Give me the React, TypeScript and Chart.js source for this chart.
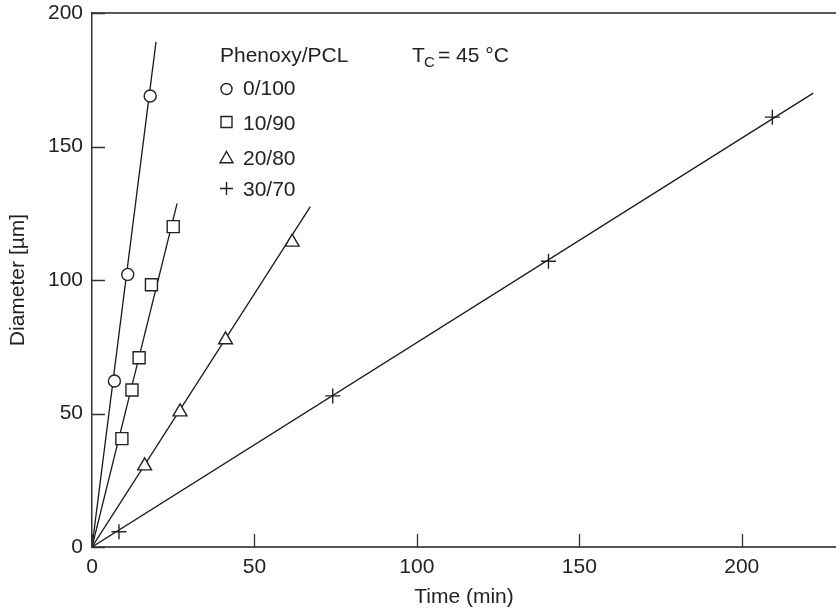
import React, { useEffect, useRef } from "react";
import { Chart, registerables } from "chart.js";

Chart.register(...registerables);

// ---- data ----
const seriesLabels = ["0/100", "10/90", "20/80", "30/70"];
const seriesStyles = ["circle", "rect", "triangle", "cross"];

const time0 = [6.9, 11.0, 17.9];
const diam0 = [62.2, 102.1, 168.9];
const time10 = [9.2, 12.3, 14.5, 18.3, 25.0];
const diam10 = [40.6, 58.8, 70.9, 98.2, 120];
const time20 = [16.2, 27.1, 41.1, 61.6];
const diam20 = [30.4, 50.6, 77.6, 114.2];
const time30 = [8.3, 74.1, 140.5, 209.4];
const diam30 = [5.7, 56.6, 107, 161];

// fitted lines (start / end points)
const fitTime0 = [0, 19.7];
const fitDiam0 = [0, 189.2];
const fitTime10 = [0, 26.2];
const fitDiam10 = [0, 128.7];
const fitTime20 = [0, 67.2];
const fitDiam20 = [0, 127.5];
const fitTime30 = [0, 222];
const fitDiam30 = [0, 170];

const xTicks = [0, 50, 100, 150, 200];
const yTicks = [0, 50, 100, 150, 200];

const legendTitle = "Phenoxy/PCL";
const tempLabelMain = "T";
const tempLabelSub = "C";
const tempLabelRest = "= 45 °C";

const FONT = '"Liberation Sans", Arial, Helvetica, sans-serif';
const INK = "#222";
const FS = 21;

const zip = (xs: number[], ys: number[]) => xs.map((x, i) => ({ x, y: ys[i] }));

const pointSets = [
  { t: time0, d: diam0, r: 6 },
  { t: time10, d: diam10, r: 8.5 },
  { t: time20, d: diam20, r: 8 },
  { t: time30, d: diam30, r: 7.5 },
];
const fitSets = [
  [fitTime0, fitDiam0],
  [fitTime10, fitDiam10],
  [fitTime20, fitDiam20],
  [fitTime30, fitDiam30],
];

function drawMarker(ctx: CanvasRenderingContext2D, style: string, x: number, y: number, r: number) {
  ctx.beginPath();
  if (style === "circle") {
    ctx.arc(x, y, r, 0, Math.PI * 2);
  } else if (style === "rect") {
    ctx.rect(x - r, y - r, 2 * r, 2 * r);
  } else if (style === "triangle") {
    const s = Math.sin((Math.PI * 2) / 3) * r;
    ctx.moveTo(x, y - r);
    ctx.lineTo(x + s, y + r / 2);
    ctx.lineTo(x - s, y + r / 2);
    ctx.closePath();
  } else {
    ctx.moveTo(x - r, y);
    ctx.lineTo(x + r, y);
    ctx.moveTo(x, y - r);
    ctx.lineTo(x, y + r);
  }
  if (style !== "cross") {
    ctx.fillStyle = "#fff";
    ctx.fill();
  }
  ctx.stroke();
}

const framePlugin = {
  id: "frameDecor",
  afterDraw(chart: any) {
    const ctx: CanvasRenderingContext2D = chart.ctx;
    const { left, right, top, bottom } = chart.chartArea;
    const xs = chart.scales.x;
    const ys = chart.scales.y;
    ctx.save();
    // top frame line
    ctx.strokeStyle = "#222";
    ctx.lineWidth = 1.5;
    ctx.beginPath();
    ctx.moveTo(left, top);
    ctx.lineTo(right, top);
    ctx.stroke();
    // inward ticks
    ctx.strokeStyle = "#333";
    ctx.lineWidth = 1.3;
    ctx.beginPath();
    xTicks.forEach((v) => {
      const px = Math.round(xs.getPixelForValue(v)) + 0.5;
      ctx.moveTo(px, bottom);
      ctx.lineTo(px, bottom - 13);
    });
    yTicks.forEach((v) => {
      const py = Math.round(ys.getPixelForValue(v)) + 0.5;
      ctx.moveTo(left, py);
      ctx.lineTo(left + 13, py);
    });
    ctx.stroke();

    // legend
    ctx.fillStyle = INK;
    ctx.textBaseline = "alphabetic";
    ctx.textAlign = "left";
    ctx.font = `${FS}px ${FONT}`;
    ctx.fillText(legendTitle, 220, 62);
    ctx.fillText(tempLabelMain, 412, 62);
    ctx.font = `15px ${FONT}`;
    ctx.fillText(tempLabelSub, 424, 67);
    ctx.font = `${FS}px ${FONT}`;
    ctx.fillText(tempLabelRest, 438, 62);

    const rowBase = [95, 129.5, 165, 196];
    const rowMid = [89, 122, 159, 188.5];
    const mr = [5.5, 5.5, 7.5, 6.5];
    seriesLabels.forEach((lab, i) => {
      ctx.strokeStyle = INK;
      ctx.lineWidth = 1.4;
      drawMarker(ctx, seriesStyles[i], 226.5, rowMid[i], mr[i]);
      ctx.fillStyle = INK;
      ctx.font = `${FS}px ${FONT}`;
      ctx.fillText(lab, 243, rowBase[i]);
    });
    ctx.restore();
  },
};

export default function App() {
  const ref = useRef<HTMLCanvasElement | null>(null);
  useEffect(() => {
    if (!ref.current) return;
    const pointDatasets = pointSets.map((s, i) => ({
      label: seriesLabels[i],
      data: zip(s.t, s.d),
      showLine: false,
      pointStyle: seriesStyles[i],
      pointRadius: s.r,
      pointHoverRadius: s.r,
      pointBorderWidth: 1.4,
      pointBorderColor: INK,
      pointBackgroundColor: "#fff",
      borderColor: INK,
      backgroundColor: "#fff",
      order: 0,
    }));
    const lineDatasets = fitSets.map((f, i) => ({
      label: seriesLabels[i] + " fit",
      data: zip(f[0], f[1]),
      showLine: true,
      pointRadius: 0,
      borderColor: "#1a1a1a",
      borderWidth: 1.3,
      fill: false,
      order: 1,
    }));
    const chart = new Chart(ref.current, {
      type: "scatter",
      data: { datasets: [...pointDatasets, ...lineDatasets] as any },
      options: {
        animation: false,
        responsive: false,
        devicePixelRatio: 1,
        layout: { autoPadding: false, padding: { left: 0, right: 0, top: 13, bottom: 0 } },
        plugins: { legend: { display: false }, tooltip: { enabled: false } },
        scales: {
          x: {
            type: "linear",
            min: 0,
            max: 229,
            afterFit: (s: any) => {
              s.height = 67;
              s.paddingLeft = 0;
              s.paddingRight = 0;
            },
            ticks: {
              stepSize: 50,
              includeBounds: false,
              color: INK,
              font: { family: FONT, size: FS },
              padding: 8,
              maxRotation: 0,
            },
            grid: { display: false, drawTicks: false },
            border: { display: true, color: "#555", width: 2 },
            title: {
              display: true,
              text: "Time (min)",
              color: INK,
              font: { family: FONT, size: FS },
              padding: { top: 0, bottom: 4 },
            },
          },
          y: {
            type: "linear",
            min: 0,
            max: 200,
            afterFit: (s: any) => {
              s.width = 92;
              s.paddingTop = 0;
              s.paddingBottom = 0;
            },
            ticks: {
              stepSize: 50,
              includeBounds: false,
              color: INK,
              font: { family: FONT, size: FS },
              padding: 9,
            },
            grid: { display: false, drawTicks: false },
            border: { display: true, color: "#333", width: 1.5 },
            title: {
              display: true,
              text: "Diameter [µm]",
              color: INK,
              font: { family: FONT, size: FS },
              padding: { top: 6, bottom: 0 },
            },
          },
        },
      },
      plugins: [framePlugin],
    });
    return () => chart.destroy();
  }, []);
  return (
    <div style={{ position: "fixed", left: 0, top: 0, width: 836, height: 614, background: "#fff" }}>
      <canvas ref={ref} width={836} height={614} style={{ display: "block" }} />
    </div>
  );
}
